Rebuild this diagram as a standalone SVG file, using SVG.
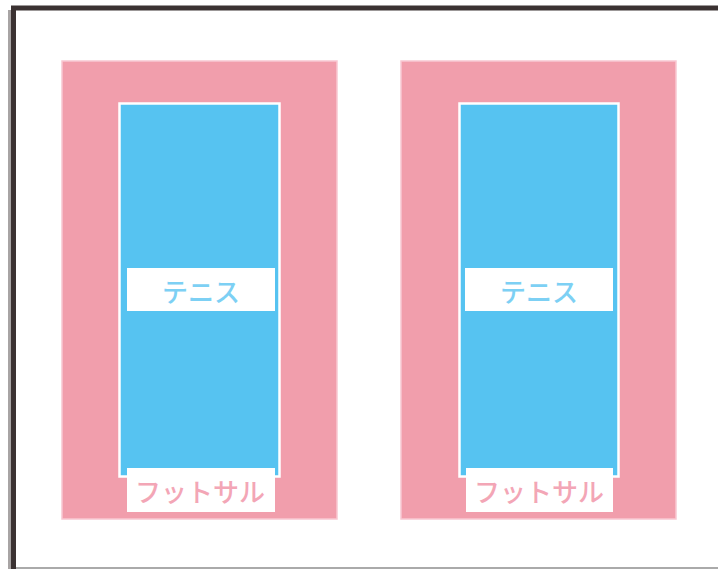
<svg xmlns="http://www.w3.org/2000/svg" width="718" height="569" viewBox="0 0 718 569">
<style>
.court{fill:#f19eac;stroke:#f8c8d2;stroke-width:1.5}
.tennis{fill:#56c3f1;stroke:#ffffff;stroke-width:2.5}
.lab{fill:#ffffff}
.t{font-family:"Noto Sans CJK JP","Noto Sans",sans-serif;font-size:26px;font-weight:500;text-anchor:middle;dominant-baseline:central}
.tb{fill:#7dd0f4}
.tp{fill:#f3a6b6}
</style>
<rect x="0" y="0" width="718" height="569" fill="#ffffff"/>
<line x1="8" y1="568" x2="718" y2="568" stroke="#aaaaaa" stroke-width="2"/>
<path d="M13.5 569 V8 H718" fill="none" stroke="#3b3232" stroke-width="5"/>
<line x1="9.5" y1="10" x2="9.5" y2="569" stroke="#a8a4a4" stroke-width="3"/>
<g id="court-left">
<rect class="court" x="62" y="61" width="275" height="458"/>
<rect class="tennis" x="119.5" y="103.5" width="160" height="373"/>
<rect class="lab" x="127" y="268" width="148" height="43"/>
<text class="t tb" x="201" y="290">テニス</text>
<rect class="lab" x="127" y="468" width="148" height="44"/>
<text class="t tp" x="200" y="490">フットサル</text>
</g>
<g id="court-right">
<rect class="court" x="401" y="61" width="275" height="458"/>
<rect class="tennis" x="459.5" y="103.5" width="159" height="373"/>
<rect class="lab" x="465" y="268" width="148" height="43"/>
<text class="t tb" x="539" y="290">テニス</text>
<rect class="lab" x="466" y="468" width="147" height="44"/>
<text class="t tp" x="539" y="490">フットサル</text>
</g>
<g id="connectors"></g>
</svg>
